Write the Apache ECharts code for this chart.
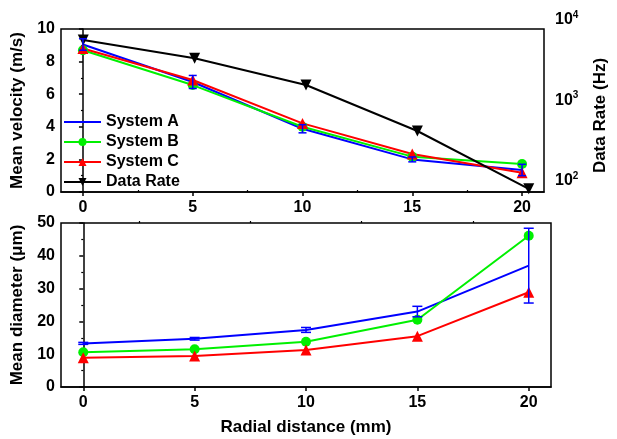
<!DOCTYPE html>
<html>
<head>
<meta charset="utf-8">
<script src="https://cdn.jsdelivr.net/npm/echarts@6/dist/echarts.min.js"></script>
<style>
  html, body { margin: 0; padding: 0; background: #fff; }
  #chart { width: 617px; height: 439px; }
</style>
</head>
<body>
<div id="chart"></div>
<script>
// radial distance (mm)
const distance = [0, 5, 10, 15, 20];
const majorTicks = [0, 5, 10, 15, 20];
const minorTicks = [2.5, 7.5, 12.5, 17.5];

// mean velocity (m/s)
const velA = [9.05, 6.75, 3.88, 2.0, 1.35];
const velAErr = [0.35, 0.4, 0.25, 0.15, 0.35];
const velB = [8.7, 6.56, 4.0, 2.17, 1.72];
const velC = [8.8, 6.87, 4.21, 2.33, 1.18];

// data rate (Hz)
const dataRate = [5650, 3340, 1560, 418, 80];

// mean diameter (um)
const diaA = [13.3, 14.7, 17.4, 23.0, 37.0];
const diaAErr = [0.3, 0.4, 0.75, 1.6, 11.4];
const diaB = [10.6, 11.5, 13.8, 20.5, 46.1];
const diaC = [8.9, 9.45, 11.3, 15.5, 28.9];

const FONT = 'Liberation Sans, Arial, sans-serif';
const BLUE = '#0000ff', GREEN = '#00f000', RED = '#ff0000', BLACK = '#000000';

const pairs = (xs, ys) => xs.map((x, i) => [x, ys[i]]);
const errRows = (xs, ys, es) => xs.map((x, i) => [x, ys[i] - es[i], ys[i] + es[i]]);

function errorBar(color, capHalf) {
    return function (params, api) {
        const x = api.value(0);
        const top = api.coord([x, api.value(2)]);
        const bot = api.coord([x, api.value(1)]);
        const style = { stroke: color, lineWidth: 1.5 };
        return {
            type: 'group',
            children: [
                { type: 'line', shape: { x1: top[0], y1: top[1], x2: bot[0], y2: bot[1] }, style: style },
                { type: 'line', shape: { x1: top[0] - capHalf, y1: top[1], x2: top[0] + capHalf, y2: top[1] }, style: style },
                { type: 'line', shape: { x1: bot[0] - capHalf, y1: bot[1], x2: bot[0] + capHalf, y2: bot[1] }, style: style }
            ]
        };
    };
}

const tickLabel = { fontFamily: FONT, fontSize: 16, fontWeight: 'bold', color: '#000' };
const nameStyle = { fontFamily: FONT, fontSize: 17, fontWeight: 'bold', color: '#000' };

function mainX(grid, withName) {
    return {
        type: 'value', gridIndex: grid, min: -1, max: 21,
        axisLine: { lineStyle: { color: '#000', width: 1.5 } },
        axisTick: { customValues: majorTicks, length: 4, lineStyle: { color: '#000', width: 1.5 } },
        axisLabel: Object.assign({ customValues: majorTicks, margin: 8 }, tickLabel),
        splitLine: { show: false },
        name: withName ? 'Radial distance (mm)' : '',
        nameLocation: 'middle', nameGap: 32, nameTextStyle: nameStyle
    };
}
function minorX(grid) {
    return {
        type: 'value', gridIndex: grid, min: -1, max: 21,
        axisLine: { show: false },
        axisTick: { customValues: minorTicks, length: 2, lineStyle: { color: '#000', width: 1.2 } },
        axisLabel: { show: false },
        splitLine: { show: false }
    };
}
function leftY(grid, max, interval, name) {
    return {
        type: 'value', gridIndex: grid, min: 0, max: max, interval: interval,
        axisLine: { show: true, lineStyle: { color: '#000', width: 1.5 } },
        axisTick: { show: true, length: 4, lineStyle: { color: '#000', width: 1.5 } },
        minorTick: { show: true, splitNumber: 2, length: 2, lineStyle: { color: '#000', width: 1.2 } },
        axisLabel: Object.assign({ margin: 6 }, tickLabel),
        splitLine: { show: false },
        name: name, nameLocation: 'middle', nameGap: 33, nameTextStyle: nameStyle
    };
}

const chart = echarts.init(document.getElementById('chart'));
chart.setOption({
    animation: false,
    backgroundColor: '#fff',
    textStyle: { fontFamily: FONT },
    grid: [
        { left: 61, top: 29, width: 490, height: 163, show: true, borderColor: '#000', borderWidth: 1.5, backgroundColor: 'transparent' },
        { left: 61, top: 223, width: 490, height: 164, show: true, borderColor: '#000', borderWidth: 1.5, backgroundColor: 'transparent' },
        { left: 61, top: 20, width: 490, height: 161 }
    ],
    legend: {
        orient: 'vertical', left: 63, top: 114, padding: 0,
        itemWidth: 37, itemHeight: 10, itemGap: 4,
        textStyle: { fontFamily: FONT, fontSize: 16, fontWeight: 'bold', color: '#000' },
        data: [
            { name: 'System A', itemStyle: { opacity: 0 } },
            'System B', 'System C', 'Data Rate'
        ]
    },
    xAxis: [
        mainX(0, false), minorX(0), mainX(1, true), minorX(1),
        { type: 'value', gridIndex: 2, min: -1, max: 21, show: false }
    ],
    yAxis: [
        leftY(0, 10, 2, 'Mean velocity (m/s)'),
        leftY(1, 50, 10, 'Mean diameter (\u03bcm)'),
        {
            type: 'log', logBase: 10, gridIndex: 2, min: 100, max: 10000, position: 'right',
            axisLine: { show: false }, axisTick: { show: false }, splitLine: { show: false },
            axisLabel: {
                margin: 4,
                formatter: function (v) { return '{b|10}{s|' + Math.round(Math.log10(v)) + '}'; },
                rich: {
                    b: { fontFamily: FONT, fontSize: 16, fontWeight: 'bold', color: '#000', lineHeight: 20 },
                    s: { fontFamily: FONT, fontSize: 10, fontWeight: 'bold', color: '#000', lineHeight: 10, verticalAlign: 'top' }
                }
            }
        },
        {
            type: 'value', gridIndex: 0, position: 'right', min: 0, max: 10,
            axisLine: { show: false }, axisTick: { show: false }, axisLabel: { show: false }, splitLine: { show: false },
            name: 'Data Rate (Hz)', nameLocation: 'middle', nameRotate: 90, nameGap: 48,
            nameTextStyle: Object.assign({ padding: [0, 10, 0, 0] }, nameStyle)
        }
    ],
    series: [
        { name: 'System A', type: 'line', xAxisIndex: 0, yAxisIndex: 0, data: pairs(distance, velA),
          symbol: 'none', lineStyle: { color: BLUE, width: 2 }, itemStyle: { color: BLUE } },
        { name: 'System B', type: 'line', xAxisIndex: 0, yAxisIndex: 0, data: pairs(distance, velB),
          symbol: 'circle', symbolSize: 10, lineStyle: { color: GREEN, width: 2 }, itemStyle: { color: GREEN } },
        { name: 'System C', type: 'line', xAxisIndex: 0, yAxisIndex: 0, data: pairs(distance, velC),
          symbol: 'triangle', symbolSize: 11, lineStyle: { color: RED, width: 2 }, itemStyle: { color: RED } },
        { name: 'Data Rate', type: 'line', xAxisIndex: 4, yAxisIndex: 2, data: pairs(distance, dataRate), clip: false,
          symbol: 'triangle', symbolRotate: 180, symbolSize: 11, lineStyle: { color: BLACK, width: 2 }, itemStyle: { color: BLACK } },
        { name: 'A velocity error', type: 'custom', xAxisIndex: 0, yAxisIndex: 0, data: errRows(distance, velA, velAErr),
          encode: { x: 0, y: [1, 2] }, renderItem: errorBar(BLUE, 4), z: 5 },

        { name: 'System A', type: 'line', xAxisIndex: 2, yAxisIndex: 1, data: pairs(distance, diaA),
          symbol: 'none', lineStyle: { color: BLUE, width: 2 }, itemStyle: { color: BLUE } },
        { name: 'System B', type: 'line', xAxisIndex: 2, yAxisIndex: 1, data: pairs(distance, diaB),
          symbol: 'circle', symbolSize: 10, lineStyle: { color: GREEN, width: 2 }, itemStyle: { color: GREEN } },
        { name: 'System C', type: 'line', xAxisIndex: 2, yAxisIndex: 1, data: pairs(distance, diaC),
          symbol: 'triangle', symbolSize: 11, lineStyle: { color: RED, width: 2 }, itemStyle: { color: RED } },
        { name: 'A diameter error', type: 'custom', xAxisIndex: 2, yAxisIndex: 1, data: errRows(distance, diaA, diaAErr),
          encode: { x: 0, y: [1, 2] }, renderItem: errorBar(BLUE, 5), z: 5 }
    ]
});
</script>
</body>
</html>
